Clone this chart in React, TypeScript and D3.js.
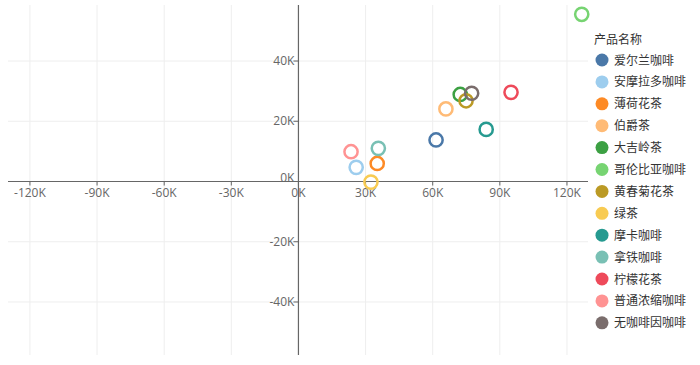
import React from "react";
import * as d3 from "d3";

const categories = ["爱尔兰咖啡", "安摩拉多咖啡", "薄荷花茶", "伯爵茶", "大吉岭茶", "哥伦比亚咖啡", "黄春菊花茶", "绿茶", "摩卡咖啡", "拿铁咖啡", "柠檬花茶", "普通浓缩咖啡", "无咖啡因咖啡"];
const xValues = [61500, 25800, 35200, 65900, 72300, 126600, 74900, 32400, 83900, 35700, 95000, 23500, 77400];
const yValues = [13800, 4700, 6000, 24100, 28900, 55500, 26800, -200, 17300, 11000, 29600, 9900, 29300];
const colors = ["#4a78a8", "#9dcdee", "#fd8a25", "#ffbb76", "#3ca043", "#77d472", "#bb9a25", "#f8cb52", "#269a90", "#79c0b4", "#ee4a5a", "#ff9393", "#7a6d6c"];
const xTicks = [-120000, -90000, -60000, -30000, 0, 30000, 60000, 90000, 120000];
const yTicks = [-40000, -20000, 0, 20000, 40000];
const legendTitle = "产品名称";

const W = 700, H = 365;
const font = "'Open Sans', 'Noto Sans CJK SC', sans-serif";

export default function App() {
  const x = d3.scaleLinear().domain([-129800, 129400]).range([8, 588]);
  const y = d3.scaleLinear().domain([-57600, 58600]).range([355, 5]);
  const fmt = (v: number) => `${Math.round(v / 1000)}K`;
  const x0 = x(0), y0 = y(0);
  return (
    <svg width={W} height={H} style={{ position: "absolute", left: 0, top: 0, background: "#fff" }} fontFamily={font}>
      {/* grid */}
      {xTicks.map((t) => (
        <line key={"gx" + t} x1={x(t)} x2={x(t)} y1={5} y2={355} stroke="#eeeeee" strokeWidth={1} />
      ))}
      {yTicks.map((t) => (
        <line key={"gy" + t} x1={8} x2={588} y1={y(t)} y2={y(t)} stroke="#eeeeee" strokeWidth={1} />
      ))}
      {/* axes */}
      <line x1={8} x2={588} y1={y0} y2={y0} stroke="#666" strokeWidth={1.2} />
      <line x1={x0} x2={x0} y1={5} y2={355} stroke="#666" strokeWidth={1.2} />
      {xTicks.map((t) => (
        <g key={"tx" + t}>
          <line x1={x(t)} x2={x(t)} y1={y0} y2={y0 + 4} stroke="#666" />
          <text x={x(t)} y={y0 + 15} textAnchor="middle" fontSize={12} fill="#666">{fmt(t)}</text>
        </g>
      ))}
      {yTicks.map((t) => (
        <g key={"ty" + t}>
          <line x1={x0 - 5} x2={x0} y1={y(t)} y2={y(t)} stroke="#666" />
          <text x={x0 - 4} y={y(t) + (t === 0 ? 0 : 4)} textAnchor="end" fontSize={12} fill="#666">{fmt(t)}</text>
        </g>
      ))}
      {/* points */}
      {categories.map((c, i) => (
        <circle key={c} cx={x(xValues[i])} cy={y(yValues[i])} r={6.6} fill="#fff" fillOpacity={0} stroke={colors[i]} strokeWidth={2.5} />
      ))}
      {/* legend */}
      <text x={594} y={44} fontSize={12} fill="#333">{legendTitle}</text>
      {categories.map((c, i) => (
        <g key={"lg" + c} transform={`translate(602, ${60 + i * 21.9})`}>
          <circle r={6.5} fill={colors[i]} />
          <text x={12} y={4.5} fontSize={12} fill="#333">{c}</text>
        </g>
      ))}
    </svg>
  );
}
